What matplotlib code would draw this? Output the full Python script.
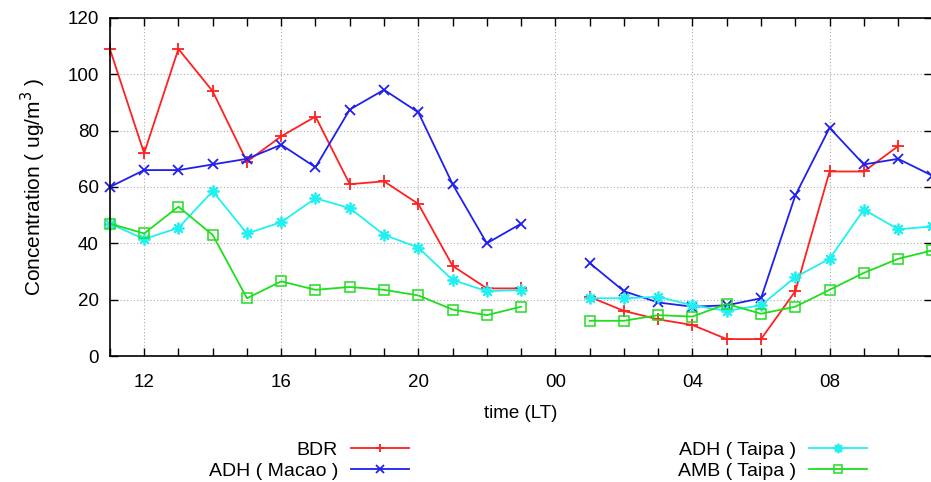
import numpy as np
import matplotlib
matplotlib.use('Agg')
import matplotlib.pyplot as plt
from matplotlib.ticker import MultipleLocator, FuncFormatter

plt.rcParams['font.family'] = ['Liberation Sans', 'DejaVu Sans']

nan = np.nan
# hour of day (11 -> 35 means 11h day 1 to 11h day 2), gap at midnight
hours = np.arange(11, 36)
bdr = [109, 72, 109, 94, 69, 78, 85, 61, 62, 54, 32, 24, 24, nan,
       21, 16, 13, 11, 6, 6, 23, 65.5, 65.5, 74.5, nan]
adh_macao = [60, 66, 66, 68, 70, 75, 67, 87.5, 94.5, 86.5, 61, 40, 47, nan,
             33, 23, 19, 17.5, 18, 20.5, 57, 81, 68, 70, 64]
adh_taipa = [47, 41.5, 45.5, 58.5, 43.5, 47.5, 56, 52.5, 43, 38.5, 27, 23, 23.5, nan,
             20.5, 20.5, 21, 18, 16, 18, 28, 34.5, 52, 45, 46]
amb_taipa = [47, 43.5, 53, 43, 20.5, 26.5, 23.5, 24.5, 23.5, 21.5, 16.5, 14.5, 17.5, nan,
             12.5, 12.5, 14.5, 14, 18.5, 15, 17.5, 23.5, 29.5, 34.5, 37.5]

fig = plt.figure(figsize=(9.31, 4.82), dpi=100)
ax = fig.add_axes([0.118, 0.2614, 0.8835, 0.7013])

l1, = ax.plot(hours, bdr, color='#ff2020', lw=1.3, marker='+', ms=8, mew=1.3, label='BDR')
l2, = ax.plot(hours, adh_macao, color='#2020ee', lw=1.3, marker='x', ms=7, mew=1.3, label='ADH ( Macao )')
l3, = ax.plot(hours, adh_taipa, color='#20f0f0', lw=1.3, marker=(8, 2, 0), ms=8.5, mew=1.3, label='ADH ( Taipa )')
l4, = ax.plot(hours, amb_taipa, color='#20dd20', lw=1.3, marker='s', ms=6.5, mew=1.1, mfc='none', label='AMB ( Taipa )')
for l in (l1, l2, l3, l4):
    l.set_clip_on(False)

ax.set_xlim(11, 35)
ax.set_ylim(0, 120)
ax.xaxis.set_major_locator(MultipleLocator(4))
ax.xaxis.set_minor_locator(MultipleLocator(1))
ax.yaxis.set_major_locator(MultipleLocator(20))
ax.xaxis.set_major_formatter(FuncFormatter(lambda v, p: '%02d' % (int(round(v)) % 24)))
ax.tick_params(which='both', direction='in', top=True, right=True, labelsize=13.5, width=1)
ax.tick_params(which='major', length=6)
ax.tick_params(axis='x', which='major', pad=13)
ax.tick_params(axis='y', which='major', pad=8)
ax.tick_params(which='minor', length=6)
ax.grid(True, which='major', color='#aaaaaa', ls=(0, (1, 2)), lw=0.8)
for s in ax.spines.values():
    s.set_linewidth(1.2)

ax.set_xlabel('time (LT)', fontsize=13.5, labelpad=10)
ax.set_ylabel('Concentration ( ug/m$^3$ )', fontsize=15, labelpad=14)

kw = dict(frameon=False, markerfirst=False, loc='upper right', fontsize=14,
          handlelength=3.0, handletextpad=0.65, borderpad=0, borderaxespad=0,
          labelspacing=0.2, numpoints=1, markerscale=0.8)
fig.legend(handles=[l1, l2], bbox_to_anchor=(409 / 931, 1 - 441 / 482), **kw)
fig.legend(handles=[l3, l4], bbox_to_anchor=(867 / 931, 1 - 441 / 482), **kw)

fig.savefig('out.png', dpi=100)
